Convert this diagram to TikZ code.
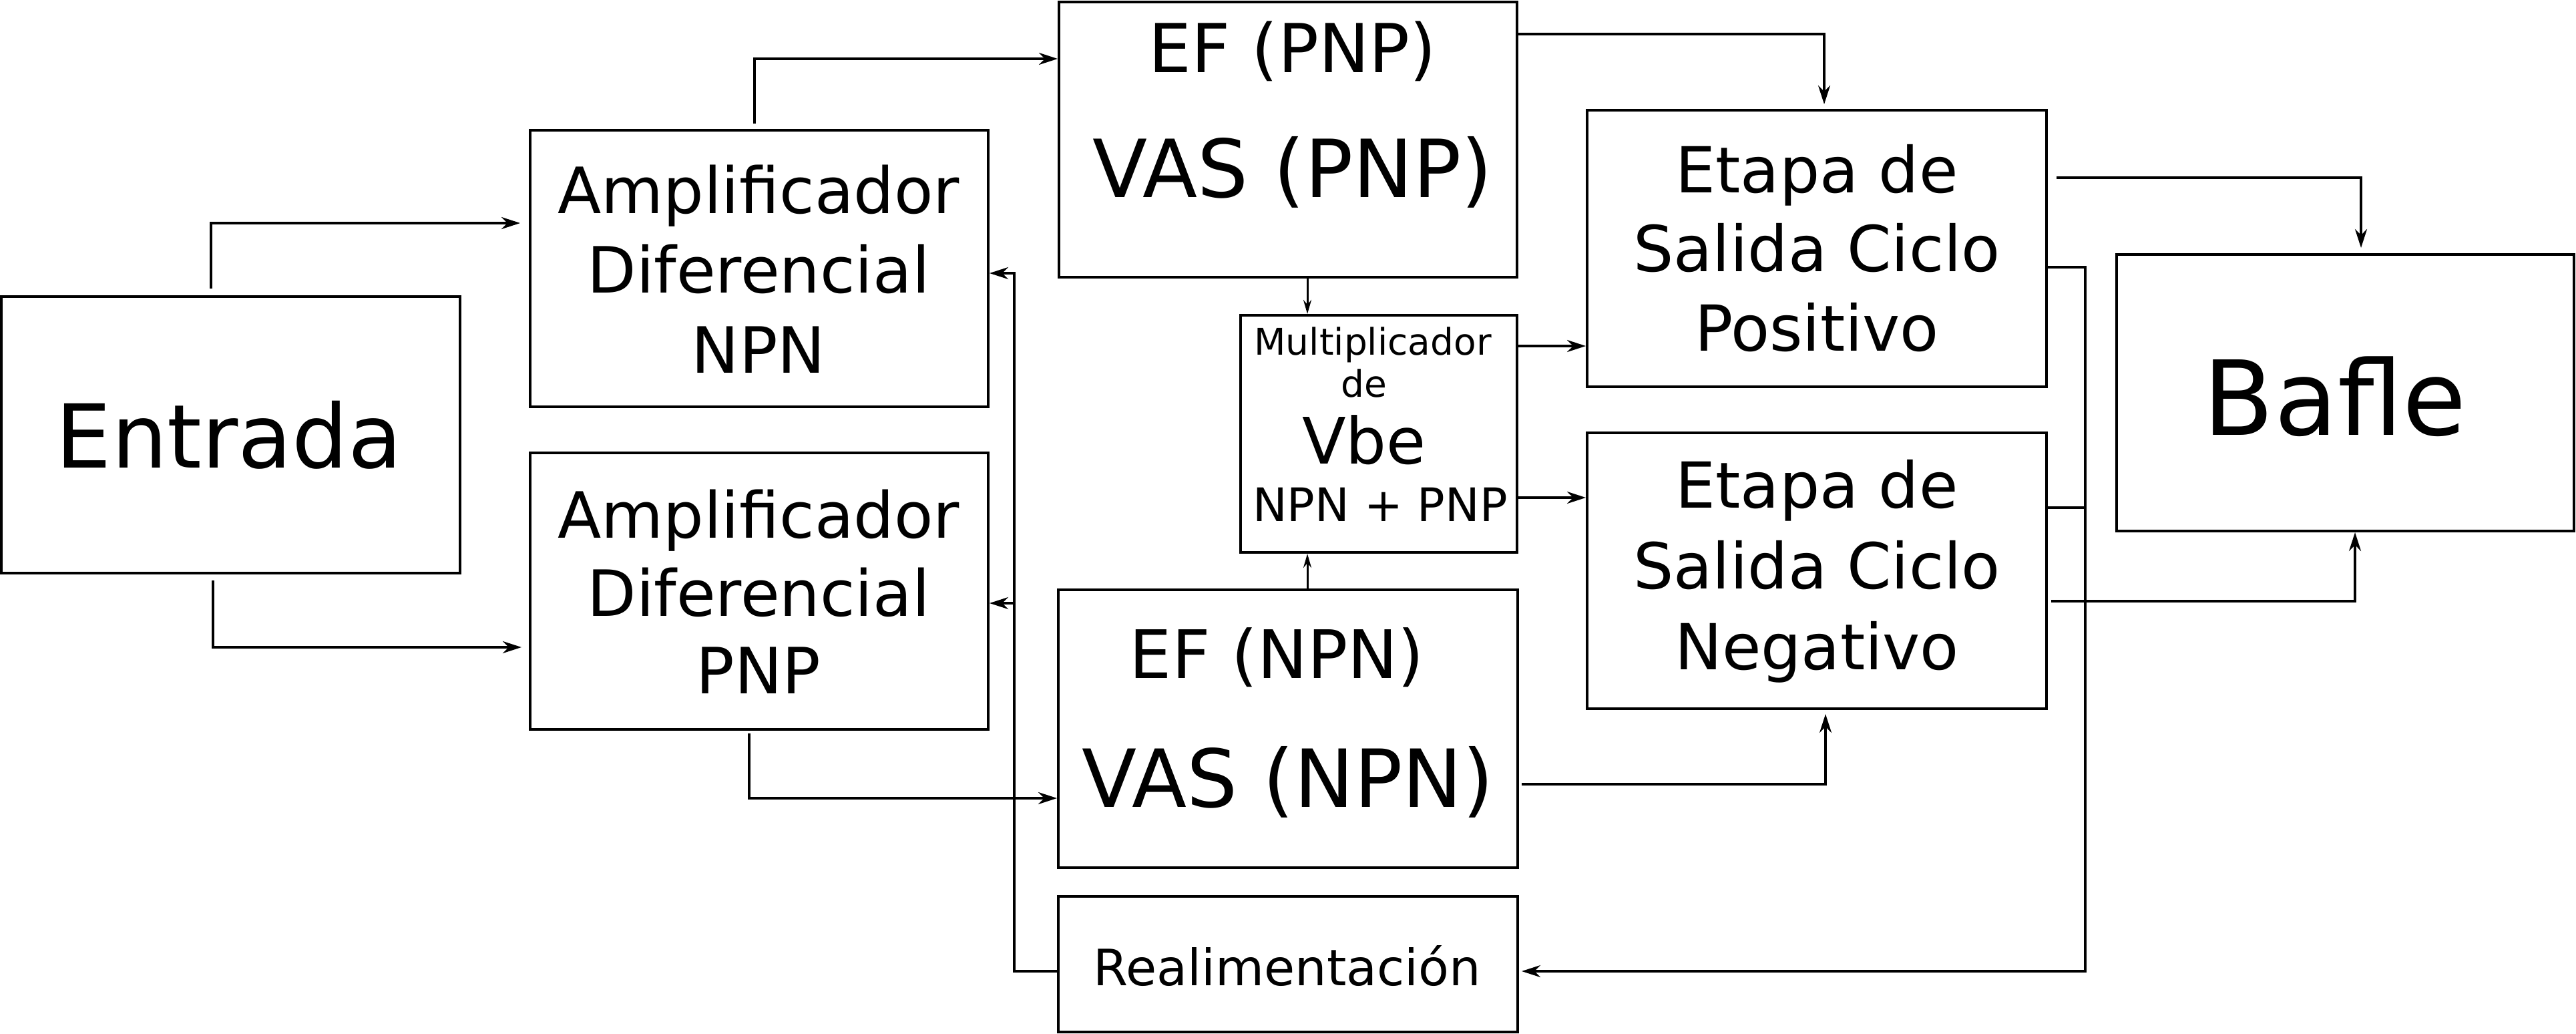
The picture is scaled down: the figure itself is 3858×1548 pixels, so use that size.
\documentclass[tikz,border=0pt]{standalone}
\usepackage{fontspec}
\setmainfont{DejaVu Sans}
\usetikzlibrary{arrows.meta,calc}
\tikzset{
  blk/.style={draw, line width=0.4pt, inner sep=0pt, rectangle},
  lbl/.style={anchor=base, inner sep=0pt},
  arr/.style={line width=0.34pt, -{Stealth[length=2.8pt,width=1.8pt,inset=0.9pt]}},
  arrsm/.style={line width=0.3pt, -{Stealth[length=2.1pt,width=1.2pt,inset=0.7pt]}},
  ln/.style={line width=0.34pt}
}
\newcommand{\fsz}[1]{\fontsize{#1pt}{#1pt}\selectfont}
\begin{document}
\begin{tikzpicture}[x=0.1pt,y=-0.1pt]
\useasboundingbox (0,0) rectangle (3858,1548);
% boxes
\node[blk, minimum width=68.7pt, minimum height=41.4pt] (entrada) at (345.5,651) {};
\node[blk, minimum width=68.6pt, minimum height=41.4pt] (ampnpn) at (1137,402) {};
\node[blk, minimum width=68.6pt, minimum height=41.4pt] (amppnp) at (1137,885) {};
\node[blk, minimum width=68.6pt, minimum height=41.2pt] (efpnp) at (1929,209) {};
\node[blk, minimum width=68.8pt, minimum height=41.6pt] (efnpn) at (1929,1091) {};
\node[blk, minimum width=41.4pt, minimum height=35.5pt] (vbe) at (2065,649.5) {};
\node[blk, minimum width=68.8pt, minimum height=41.4pt] (etapapos) at (2721,372) {};
\node[blk, minimum width=68.8pt, minimum height=41.3pt] (etapaneg) at (2721,854.5) {};
\node[blk, minimum width=68.5pt, minimum height=41.4pt] (bafle) at (3512.5,588) {};
\node[blk, minimum width=68.8pt, minimum height=20.3pt] (realim) at (1929,1443.5) {};
% labels
\node[lbl, font=\fsz{13.2}] (tEntrada) at (343,700) {Entrada};
\node[lbl, font=\fsz{9.55}] (tA1) at (1136,320) {Amplificador};
\node[lbl, font=\fsz{9.55}] (tA2) at (1136,439) {Diferencial};
\node[lbl, font=\fsz{9.55}] (tA3) at (1136,558) {NPN};
\node[lbl, font=\fsz{9.55}] (tB1) at (1136,805) {Amplificador};
\node[lbl, font=\fsz{9.55}] (tB2) at (1136,922) {Diferencial};
\node[lbl, font=\fsz{9.55}] (tB3) at (1136,1038) {PNP};
\node[lbl, font=\fsz{10.1}] (tEFp) at (1936,109) {EF (PNP)};
\node[lbl, font=\fsz{12}] (tVASp) at (1936,296) {VAS (PNP)};
\node[lbl, font=\fsz{10.0}] (tEFn) at (1912,1015) {EF (NPN)};
\node[lbl, font=\fsz{12.0}] (tVASn) at (1929,1208) {VAS (NPN)};
\node[lbl, font=\fsz{5.5}] (tM1) at (2056,532) {Multiplicador};
\node[lbl, font=\fsz{5.5}] (tM2) at (2043,595) {de};
\node[lbl, font=\fsz{9.6}] (tM3) at (2043,695) {Vbe};
\node[lbl, font=\fsz{6.9}] (tM4) at (2067,780) {NPN + PNP};
\node[lbl, font=\fsz{9.5}] (tP1) at (2721,289) {Etapa de};
\node[lbl, font=\fsz{9.5}] (tP2) at (2721,407) {Salida Ciclo};
\node[lbl, font=\fsz{9.5}] (tP3) at (2721,525) {Positivo};
\node[lbl, font=\fsz{9.5}] (tN1) at (2721,760) {Etapa de};
\node[lbl, font=\fsz{9.5}] (tN2) at (2721,881) {Salida Ciclo};
\node[lbl, font=\fsz{9.5}] (tN3) at (2721,1002) {Negativo};
\node[lbl, font=\fsz{15.5}] (tBafle) at (3497,652) {Bafle};
\node[lbl, font=\fsz{7.5}] (tRe) at (1928,1475) {Realimentación};
% connectors
\draw[arr, shorten <=1pt, shorten >=1.3pt] ([xshift=-2.95pt]entrada.north) |- ([yshift=6.8pt]ampnpn.west);
\draw[arr, shorten <=0.9pt, shorten >=1.1pt] ([xshift=-2.65pt]entrada.south) |- ([yshift=-8.4pt]amppnp.west);
\draw[arr, shorten <=0.8pt] ([xshift=-0.7pt]ampnpn.north) |- ([yshift=12.1pt]efpnp.west);
\draw[arr, shorten <=0.4pt] ([xshift=-1.5pt]amppnp.south) |- ([yshift=-10.4pt]efnpn.west);
\draw[arr, shorten >=0.7pt] ([yshift=15.8pt]efpnp.east) -| ([xshift=1.1pt]etapapos.north);
\coordinate (c6) at ([xshift=2.9pt]efpnp.south);
\draw[arrsm] (c6) -- (c6 |- vbe.north);
\coordinate (c7) at ([xshift=2.9pt]efnpn.north);
\draw[arrsm] (c7) -- (c7 |- vbe.south);
\coordinate (c8) at ([yshift=13.15pt]vbe.east);
\draw[arr] (c8) -- (c8 -| etapapos.west);
\coordinate (c9) at ([yshift=-9.55pt]vbe.east);
\draw[arr] (c9) -- (c9 -| etapaneg.west);
\draw[arr, shorten <=0.4pt, shorten >=0.6pt] ([yshift=-8.3pt]efnpn.east) -| ([xshift=1.3pt]etapaneg.south);
\draw[arr, shorten <=1.3pt, shorten >=0.8pt] ([yshift=10.6pt]etapapos.east) -| ([xshift=2.35pt]bafle.north);
\draw[arr, shorten <=0.5pt] ([yshift=-4.55pt]etapaneg.east) -| ([xshift=1.45pt]bafle.south);
% feedback
\coordinate (fbR) at (3123,1454);
\draw[arr, shorten >=0.4pt] ([yshift=-2.8pt]etapapos.east) -| (fbR) -- (fbR -| realim.east);
\coordinate (c13) at ([yshift=9.45pt]etapaneg.east);
\draw[ln] (c13) -- (c13 -| fbR);
\coordinate (fbL) at (1519,409);
\draw[arr] ([yshift=-1.05pt]realim.west) -| (fbL) -- (fbL -| ampnpn.east);
\coordinate (c14) at ([yshift=-1.8pt]amppnp.east);
\draw[arr] (c14 -| fbL) -- (c14);
\end{tikzpicture}
\end{document}
